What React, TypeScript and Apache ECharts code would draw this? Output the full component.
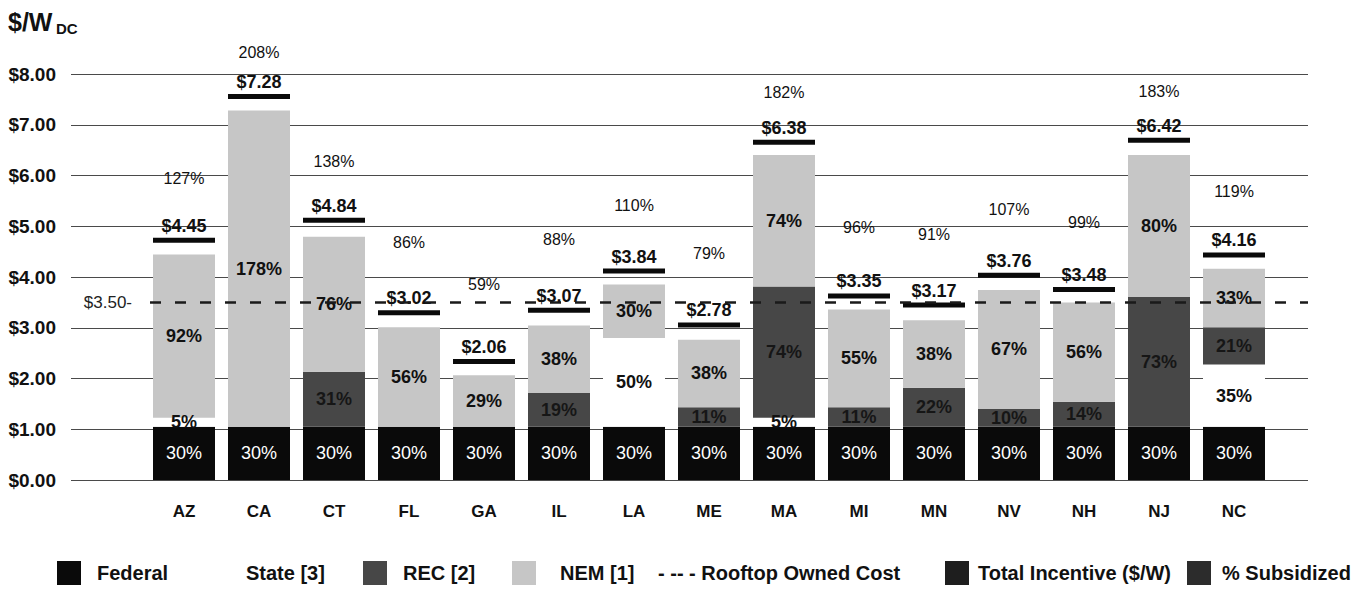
import React, { useEffect, useRef } from 'react';
import * as echarts from 'echarts';

const states = ['AZ', 'CA', 'CT', 'FL', 'GA', 'IL', 'LA', 'ME', 'MA', 'MI', 'MN', 'NV', 'NH', 'NJ', 'NC'];
const federalPct = [30, 30, 30, 30, 30, 30, 30, 30, 30, 30, 30, 30, 30, 30, 30];
const statePct = [5, 0, 0, 0, 0, 0, 50, 0, 5, 0, 0, 0, 0, 0, 35];
const recPct = [0, 0, 31, 0, 0, 19, 0, 11, 74, 11, 22, 10, 14, 73, 21];
const nemPct = [92, 178, 76, 56, 29, 38, 30, 38, 74, 55, 38, 67, 56, 80, 33];
const totalIncentive = [4.45, 7.28, 4.84, 3.02, 2.06, 3.07, 3.84, 2.78, 6.38, 3.35, 3.17, 3.76, 3.48, 6.42, 4.16];
const pctSubsidized = [127, 208, 138, 86, 59, 88, 110, 79, 182, 96, 91, 107, 99, 183, 119];
const rooftopCost = 3.5;
const yMin = 0;
const yMax = 8;
const yStep = 1;

const FONT = '"Liberation Sans", Arial, Helvetica, sans-serif';
const INK = '#111111';

function segment(name: string, pcts: number[], color: string, labelColor: string, weight: string) {
  return {
    type: 'bar',
    name,
    stack: 'cost',
    xAxisIndex: 1,
    yAxisIndex: 1,
    barWidth: 62,
    data: pcts.map((p) => (p / 100) * rooftopCost),
    itemStyle: { color },
    label: {
      show: true,
      position: 'inside',
      formatter: (p: any) => (pcts[p.dataIndex] ? pcts[p.dataIndex] + '%' : ''),
      color: labelColor,
      fontSize: 18,
      fontWeight: weight,
      fontFamily: FONT,
    },
  };
}

function legendItem(name: string, left: number, extra: any = {}) {
  const l: any = {
    data: [name],
    left,
    top: 561,
    padding: 0,
    itemWidth: extra.itemWidth ?? 24,
    itemHeight: 24,
    icon: extra.icon ?? 'rect',
    selectedMode: false,
    textStyle: {
      fontSize: 20,
      fontWeight: 'bold',
      fontFamily: FONT,
      color: INK,
      padding: [0, 0, 0, extra.textPad ?? 11],
    },
  };
  if (extra.formatter) l.formatter = extra.formatter;
  if (extra.itemStyle) l.itemStyle = extra.itemStyle;
  return l;
}

export default function App() {
  const ref = useRef<HTMLDivElement>(null);
  useEffect(() => {
    if (!ref.current) return;
    const chart = echarts.init(ref.current, undefined, { renderer: 'svg' });
    const option: any = {
      animation: false,
      backgroundColor: '#ffffff',
      textStyle: { fontFamily: FONT },
      graphic: [
        { type: 'text', left: 8, top: 9, style: { text: '$/W', font: `bold 25px ${FONT}`, fill: INK } },
        { type: 'text', left: 56, top: 21, style: { text: 'DC', font: `bold 15px ${FONT}`, fill: INK } },
      ],
      grid: [
        { left: 71, right: 57, top: 74, bottom: 117 },
        { left: 146.5, right: 93.5, top: 74, bottom: 117 },
      ],
      xAxis: [
        { type: 'value', gridIndex: 0, min: 0, max: 1237, show: false },
        {
          type: 'category',
          gridIndex: 1,
          data: states,
          axisLine: { show: false },
          axisTick: { show: false },
          axisLabel: { fontSize: 17, fontWeight: 'bold', color: INK, margin: 23, fontFamily: FONT },
        },
      ],
      yAxis: [
        {
          type: 'value',
          gridIndex: 0,
          min: yMin,
          max: yMax,
          interval: yStep,
          axisLine: { show: false },
          axisTick: { show: false },
          axisLabel: {
            formatter: (v: number) => '$' + v.toFixed(2),
            fontSize: 19,
            fontWeight: 'bold',
            color: INK,
            margin: 15,
            fontFamily: FONT,
          },
          splitLine: { lineStyle: { color: '#4a4a4a', width: 1 } },
        },
        { type: 'value', gridIndex: 1, min: yMin, max: yMax, show: false, splitLine: { show: false } },
        { type: 'value', gridIndex: 1, min: -66, max: 194, show: false, splitLine: { show: false } },
      ],
      legend: [
        legendItem('Federal', 57),
        legendItem('State [3]', 206),
        legendItem('REC [2]', 363),
        legendItem('NEM [1]', 512, { textPad: 19 }),
        legendItem('Rooftop Owned Cost', 653, {
          icon: 'none',
          itemWidth: 0,
          textPad: 0,
          formatter: (n: string) => '- -- - ' + n,
        }),
        legendItem('Total Incentive ($/W)', 945, { textPad: 4, itemStyle: { color: '#1e1e1e', opacity: 1 } }),
        legendItem('% Subsidized', 1187, { textPad: 6, itemStyle: { color: '#2c2c2c', opacity: 1 } }),
      ],
      series: [
        {
          type: 'line',
          name: 'Rooftop Owned Cost',
          xAxisIndex: 0,
          yAxisIndex: 0,
          data: [],
          z: 6,
          itemStyle: { color: '#222' },
          markLine: {
            silent: true,
            symbol: 'none',
            lineStyle: { type: [11, 14], color: '#1a1a1a', width: 2.5 },
            label: {
              position: 'start',
              formatter: '$' + rooftopCost.toFixed(2) + '-',
              fontSize: 17,
              color: '#222',
              distance: 18,
              fontFamily: FONT,
            },
            data: [[{ coord: [79, rooftopCost] }, { coord: [1237, rooftopCost] }]],
          },
        },
        segment('Federal', federalPct, '#0a0a0a', '#ffffff', 'normal'),
        segment('State [3]', statePct, '#ffffff', INK, 'bold'),
        segment('REC [2]', recPct, '#474747', '#161616', 'bold'),
        segment('NEM [1]', nemPct, '#c6c6c6', INK, 'bold'),
        {
          type: 'scatter',
          name: 'Total Incentive ($/W)',
          xAxisIndex: 1,
          yAxisIndex: 1,
          data: totalIncentive,
          symbol: 'rect',
          symbolSize: [62, 5],
          symbolOffset: [0, -14],
          itemStyle: { color: '#0a0a0a', opacity: 1 },
          z: 4,
          label: {
            show: true,
            position: 'top',
            distance: 3,
            formatter: (p: any) => '$' + Number(p.value).toFixed(2),
            fontSize: 18,
            fontWeight: 'bold',
            color: INK,
            fontFamily: FONT,
          },
        },
        {
          type: 'scatter',
          name: '% Subsidized',
          xAxisIndex: 1,
          yAxisIndex: 2,
          data: pctSubsidized,
          symbolSize: 1,
          clip: false,
          itemStyle: { color: 'rgba(0,0,0,0)', opacity: 1 },
          z: 4,
          label: {
            show: true,
            position: 'inside',
            formatter: (p: any) => p.value + '%',
            fontSize: 16,
            color: INK,
            fontFamily: FONT,
          },
        },
      ],
    };
    chart.setOption(option);
    return () => chart.dispose();
  }, []);
  return <div ref={ref} style={{ position: 'absolute', left: 0, top: 0, width: 1365, height: 597 }} />;
}
